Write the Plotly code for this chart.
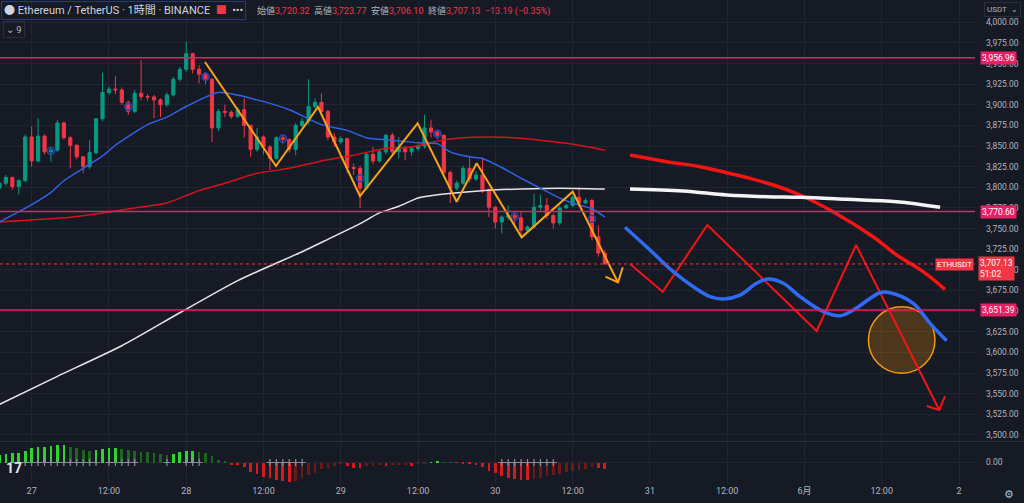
import pandas as pd
import plotly.graph_objects as go

# ETH/USDT 1h candles, first one at 2024-05-26 19:00
first_time = "2024-05-26 19:00"
first_open = 3799
closes = [
    3805, 3812, 3801, 3808, 3861, 3832, 3862, 3843, 3845, 3878,
    3860, 3851, 3837, 3825, 3842, 3883, 3915, 3919, 3918, 3903,
    3892, 3914, 3910, 3909.5, 3906, 3900, 3912, 3931, 3943, 3962,
    3943, 3937, 3931, 3872, 3892, 3891, 3886, 3894, 3875, 3846,
    3861, 3849, 3835, 3860, 3858, 3846, 3875, 3880, 3898, 3903,
    3892, 3861, 3855, 3859, 3824, 3823, 3799, 3840, 3832, 3843,
    3863, 3843, 3847, 3843, 3847, 3850, 3872, 3867, 3863, 3818,
    3799, 3805, 3823, 3810, 3815, 3797, 3776, 3758, 3764, 3766,
    3763, 3748, 3752, 3776, 3778, 3766, 3757, 3775, 3778, 3788,
    3781, 3784, 3740, 3720.32, 3707.13,
]
highs = [
    3809, 3815, 3813, 3810, 3864, 3874, 3884, 3864, 3848, 3882,
    3880, 3862, 3852, 3838, 3857, 3884, 3939, 3922, 3935, 3921,
    3905, 3918, 3954, 3913, 3912, 3908, 3915, 3934, 3946, 3976,
    3963, 3948, 3940, 3932, 3895, 3900, 3893, 3897, 3908, 3876,
    3872, 3863, 3851, 3862, 3863, 3859, 3878, 3884, 3931, 3908,
    3914, 3894, 3866, 3862, 3860, 3829, 3826, 3842, 3849, 3846,
    3865, 3866, 3861, 3850, 3849, 3852, 3888, 3882, 3869, 3864,
    3820, 3808, 3826, 3837, 3820, 3836, 3799, 3777, 3766, 3778,
    3770, 3770, 3754, 3792, 3791, 3787, 3768, 3777, 3780, 3790,
    3800, 3787, 3786, 3754, 3723.77,
]
lows = [
    3795, 3802, 3797, 3791, 3806, 3825, 3830, 3840, 3831, 3843,
    3858, 3823, 3834, 3817, 3822, 3840, 3880, 3912, 3913, 3900,
    3888, 3890, 3906, 3905, 3884, 3885, 3898, 3910, 3928, 3940,
    3938, 3926, 3925, 3855, 3868, 3885, 3883, 3884, 3860, 3837,
    3843, 3840, 3821, 3833, 3852, 3842, 3839, 3873, 3876, 3895,
    3888, 3857, 3849, 3852, 3817, 3815, 3775, 3797, 3828, 3830,
    3840, 3838, 3835, 3833, 3838, 3844, 3847, 3860, 3858, 3812,
    3781, 3796, 3803, 3806, 3808, 3793, 3764, 3750, 3744, 3760,
    3755, 3740, 3745, 3750, 3772, 3762, 3750, 3754, 3774, 3776,
    3776, 3780, 3736, 3716, 3706.10,
]

# squeeze momentum histogram
momentum = [
    7.7, 8.7, 9.3, 10, 12, 14.3, 15.3, 16, 16.2, 17.3,
    17.5, 16, 14.3, 12.7, 12, 12.7, 13.7, 14.3, 14.6, 13.7,
    12.7, 12, 11, 10.3, 9.3, 8.7, 7.7, 8.7, 10.3, 11.7,
    12, 11, 9.3, 6.7, 2.7, 0.7, -2, -2.7, -4.7, -9,
    -11.7, -14, -15.7, -17.3, -18, -19, -18, -15.7, -12.3, -10,
    -6.7, -5, -3.3, -1.7, -3.3, -5, -5.7, -3.3, -3.2, -2.7,
    -3.3, -2.7, -2.6, -2.5, -3.3, -1.7, -0.7, 0.5, 1, 0.5,
    0.3, -0.3, -0.5, -1, -2, -4, -8, -10, -13, -15,
    -16, -17, -17.5, -16, -15, -13.5, -12, -11, -9.5, -8,
    -7, -6, -4.5, -5, -6,
]
squeeze_idx = list(range(4, 16)) + list(range(17, 22)) + [26, 29, 30, 31] \
    + list(range(42, 48)) + list(range(78, 87))
session_idx = [8, 20, 32, 44, 56, 68, 80, 92]

# moving averages (candle index, price)
blue_ma_idx = [0, 5, 8, 10, 12, 16, 18, 23, 26, 29, 34, 40, 45, 50, 54, 57,
               61, 65, 68, 70, 73, 75, 78, 81, 84, 87, 89, 92, 94]
blue_ma_val = [3758, 3779, 3794, 3808, 3818, 3838, 3851, 3876, 3885, 3898,
               3915, 3906, 3894, 3876, 3869, 3860, 3857, 3854, 3853, 3843,
               3837, 3835, 3824, 3811, 3799, 3787, 3781, 3774, 3764]
red_ma_idx = [0, 10, 16, 21, 26, 29, 31, 35, 40, 45, 50, 55, 60, 64, 68, 72,
              76, 80, 85, 90, 94]
red_ma_val = [3758, 3763, 3769, 3775, 3781, 3790, 3796, 3805, 3817, 3823,
              3832, 3839, 3847, 3849, 3856, 3860, 3861, 3860, 3856, 3851, 3845]
white_ma_idx = [0, 9, 19, 28, 37, 47, 51, 56, 59, 62, 65, 68, 75, 81, 87, 94]
white_ma_val = [3537, 3571, 3608, 3648, 3687, 3722, 3737, 3756, 3769, 3777,
                3787, 3791, 3796, 3798, 3799, 3798]

levels = [3956.96, 3770.60, 3651.39]
last_price = 3707.13

# hand drawn lines
orange_t = ["2024-05-28 02:55", "2024-05-28 13:56", "2024-05-28 20:28",
            "2024-05-29 02:59", "2024-05-29 11:56", "2024-05-29 18:00",
            "2024-05-29 21:06", "2024-05-30 04:05", "2024-05-30 12:01",
            "2024-05-30 19:03"]
orange_p = [3951.9, 3825.9, 3897.4, 3789.5, 3877.6, 3782.6, 3829.1, 3739.4,
            3794.7, 3684.7]
orange_head_t = ["2024-05-30 17:06", "2024-05-30 19:03", "2024-05-30 19:47"]
orange_head_p = [3691.7, 3684.7, 3703.1]

proj_red_t = ["2024-05-30 20:55", "2024-05-31 02:37", "2024-05-31 07:47",
              "2024-05-31 11:56", "2024-05-31 15:35", "2024-05-31 19:10",
              "2024-05-31 23:19", "2024-06-01 04:26", "2024-06-01 10:39",
              "2024-06-01 14:20", "2024-06-01 18:25", "2024-06-01 21:50"]
proj_red_p = [3839.2, 3831.1, 3825.0, 3817.7, 3810.9, 3802.8, 3790.7, 3770.5,
              3740.2, 3718.0, 3697.8, 3676.4]
proj_white_t = ["2024-05-30 20:55", "2024-05-31 05:08", "2024-05-31 11:56",
                "2024-05-31 18:08", "2024-05-31 23:19", "2024-06-01 06:34",
                "2024-06-01 14:20", "2024-06-01 21:04"]
proj_white_p = [3798.0, 3795.6, 3790.7, 3788.6, 3787.9, 3785.5, 3782.6, 3775.8]
proj_blue_t = ["2024-05-30 20:08", "2024-05-31 00:01", "2024-05-31 03:38",
               "2024-05-31 06:44", "2024-05-31 09:20", "2024-05-31 11:24",
               "2024-05-31 14:00", "2024-05-31 16:35", "2024-05-31 18:23",
               "2024-05-31 20:43", "2024-05-31 23:19", "2024-06-01 02:56",
               "2024-06-01 05:31", "2024-06-01 07:35", "2024-06-01 11:44",
               "2024-06-01 13:17", "2024-06-01 16:54", "2024-06-01 19:30",
               "2024-06-01 22:05"]
proj_blue_p = [3751.6, 3724.1, 3697.8, 3679.6, 3667.5, 3664.7, 3669.5, 3683.7,
               3688.9, 3683.7, 3667.5, 3649.3, 3644.4, 3651.3, 3672.3, 3672.3,
               3659.5, 3635.2, 3614.1]
zigzag_t = ["2024-05-30 20:55", "2024-05-31 01:59", "2024-05-31 08:55",
            "2024-06-01 01:54", "2024-06-01 08:01", "2024-06-01 20:56"]
zigzag_p = [3707.1, 3673.5, 3754.3, 3625.9, 3730.1, 3530.2]
zigzag_head_t = ["2024-06-01 18:59", "2024-06-01 20:56", "2024-06-01 21:50"]
zigzag_head_p = [3535.0, 3530.2, 3547.1]
circle_t = ["2024-06-01 09:56", "2024-06-01 20:16"]
circle_p = [3574.6, 3655.4]

x_range = ["2024-05-26 19:05", "2024-06-02 02:29"]
tick_times = ["2024-05-27", "2024-05-27 12:00", "2024-05-28", "2024-05-28 12:00",
              "2024-05-29", "2024-05-29 12:00", "2024-05-30", "2024-05-30 12:00",
              "2024-05-31", "2024-05-31 12:00", "2024-06-01", "2024-06-01 12:00",
              "2024-06-02"]
tick_labels = ["27", "12:00", "28", "12:00", "29", "12:00", "30", "12:00",
               "31", "12:00", "6月", "12:00", "2"]
price_ticks = list(range(3500, 4001, 25))

BG = "#161a25"
GRID = "#212532"
TXT = "#b2b5be"
UP = "#089981"
DOWN = "#f23645"
PINK = "#e91e63"

times = pd.date_range(first_time, periods=len(closes), freq="h")
opens = [first_open] + closes[:-1]

fig = go.Figure()

fig.add_trace(go.Candlestick(
    x=times, open=opens, high=highs, low=lows, close=closes,
    increasing=dict(line=dict(color=UP, width=1), fillcolor=UP),
    decreasing=dict(line=dict(color=DOWN, width=1), fillcolor=DOWN),
    whiskerwidth=0, hoverinfo="skip", showlegend=False,
))

def ma_line(idx, val, color):
    fig.add_trace(go.Scatter(
        x=[times[i] for i in idx], y=val, mode="lines",
        line=dict(color=color, width=1.5, shape="spline", smoothing=0.6),
        hoverinfo="skip", showlegend=False,
    ))

ma_line(white_ma_idx, white_ma_val, "#e6e6e6")
ma_line(red_ma_idx, red_ma_val, "#d8121b")
ma_line(blue_ma_idx, blue_ma_val, "#2e63e6")

# session markers
fig.add_trace(go.Scatter(
    x=[times[i] for i in session_idx],
    y=[(opens[i] + closes[i]) / 2 for i in session_idx],
    mode="markers",
    marker=dict(symbol="circle-open", size=7, color="#2444b8", line=dict(width=1.6)),
    hoverinfo="skip", showlegend=False,
))

def drawing(t, p, color, width, spline=False):
    fig.add_trace(go.Scatter(
        x=pd.to_datetime(t), y=p, mode="lines",
        line=dict(color=color, width=width, shape="spline" if spline else "linear"),
        hoverinfo="skip", showlegend=False,
    ))

drawing(orange_t, orange_p, "#f7a21b", 2)
drawing(orange_head_t, orange_head_p, "#f7a21b", 2)
drawing(proj_red_t, proj_red_p, "#f41414", 3.5, spline=True)
drawing(proj_white_t, proj_white_p, "#f4f4f4", 3.5, spline=True)
drawing(zigzag_t, zigzag_p, "#f41414", 2)
drawing(zigzag_head_t, zigzag_head_p, "#f41414", 2)
drawing(proj_blue_t, proj_blue_p, "#2f6bf2", 3.5, spline=True)

# momentum histogram
colors = []
for i, v in enumerate(momentum):
    prev = momentum[i - 1] if i else 0
    if v >= 0:
        colors.append("#2fd42f" if v > prev else "#1c651c")
    else:
        colors.append("#d41a1a" if v < prev else "#6e1818")
fig.add_trace(go.Bar(
    x=times, y=momentum, marker=dict(color=colors, line=dict(width=0)),
    width=0.42 * 3600 * 1000, yaxis="y2", hoverinfo="skip", showlegend=False,
))
fig.add_trace(go.Scatter(
    x=[times[i] for i in squeeze_idx], y=[0] * len(squeeze_idx), yaxis="y2",
    mode="markers", marker=dict(symbol="cross-thin", size=5, color="#8a8e99",
                                line=dict(width=1.2, color="#8a8e99")),
    hoverinfo="skip", showlegend=False,
))

shapes = []
for lv in levels:
    shapes.append(dict(type="line", xref="paper", x0=0, x1=1, yref="y", y0=lv, y1=lv,
                       line=dict(color=PINK, width=1.5)))
shapes.append(dict(type="line", xref="paper", x0=0, x1=1, yref="y",
                   y0=last_price, y1=last_price, line=dict(color=DOWN, width=1, dash="dot")))
shapes.append(dict(type="circle", xref="x", yref="y", x0=circle_t[0], x1=circle_t[1],
                   y0=circle_p[0], y1=circle_p[1], layer="between",
                   fillcolor="rgba(255,152,0,0.24)", line=dict(color="#f39a12", width=1.5)))
shapes.append(dict(type="line", xref="paper", x0=0, x1=1.06, yref="paper", y0=0.0878, y1=0.0878,
                   line=dict(color="#2a2e39", width=1)))

ann = []
for lv in levels:
    ann.append(dict(xref="paper", x=1, xanchor="left", xshift=5, yref="y", y=lv,
                    text=f"{lv:,.2f}", showarrow=False, bgcolor=PINK, borderpad=1,
                    font=dict(size=8.5, color="white")))
ann.append(dict(xref="paper", x=1, xanchor="right", xshift=-1, yref="y", y=last_price,
                yshift=-1, text="ETHUSDT", showarrow=False, bgcolor=DOWN, borderpad=1,
                font=dict(size=8, color="white")))
ann.append(dict(xref="paper", x=1, xanchor="left", xshift=3, yref="y", y=last_price,
                yshift=-5, text=f"{last_price:,.2f}<br>51:02", showarrow=False,
                bgcolor=DOWN, borderpad=1, align="left",
                font=dict(size=8.5, color="white")))
ann.append(dict(xref="paper", yref="paper", x=0, y=1, xanchor="left", yanchor="top",
                xshift=1, yshift=-1, showarrow=False,
                text="● Ethereum / TetherUS · 1時間 · BINANCE  "
                     "<span style='color:#f23645'>■</span>  •••",
                bordercolor="#243a7d", borderwidth=1, borderpad=2,
                font=dict(size=11, color="#d1d4dc")))
ann.append(dict(xref="paper", yref="paper", x=0, y=1, xanchor="left", yanchor="top",
                xshift=255, yshift=-3, showarrow=False,
                text="始値<span style='color:#f23645'>3,720.32</span>  "
                     "高値<span style='color:#f23645'>3,723.77</span>  "
                     "安値<span style='color:#f23645'>3,706.10</span>  "
                     "終値<span style='color:#f23645'>3,707.13</span>  "
                     "<span style='color:#f23645'>−13.19 (−0.35%)</span>",
                font=dict(size=9, color=TXT)))
ann.append(dict(xref="paper", yref="paper", x=0, y=1, xanchor="left", yanchor="top",
                xshift=3, yshift=-21, showarrow=False, text="⌄ 9",
                bordercolor="#2a2e39", borderwidth=1, borderpad=2,
                font=dict(size=9.5, color=TXT)))
ann.append(dict(xref="paper", yref="paper", x=1, y=1, xanchor="left", yanchor="top",
                xshift=9, yshift=-2, showarrow=False, text="USDT  ⌄",
                bordercolor="#2a2e39", borderwidth=1, borderpad=2, bgcolor=BG,
                font=dict(size=8, color=TXT)))
ann.append(dict(xref="paper", yref="paper", x=0, y=0.033, xanchor="left", yanchor="middle",
                xshift=4, showarrow=False, text="<b>17</b>",
                font=dict(size=14, color="#e0e3eb")))
ann.append(dict(xref="paper", yref="paper", x=1, y=0, xanchor="left", yanchor="middle",
                xshift=27, yshift=-10, showarrow=False, text="⚙",
                font=dict(size=11, color=TXT)))

fig.update_layout(
    width=1024, height=503,
    margin=dict(l=0, r=49, t=0, b=19),
    paper_bgcolor=BG, plot_bgcolor=BG,
    font=dict(family="Roboto, 'Noto Sans CJK JP', sans-serif", color=TXT),
    showlegend=False, bargap=0,
    xaxis=dict(type="date", range=x_range, anchor="y2", tickvals=tick_times,
               ticktext=tick_labels, showgrid=True, gridcolor=GRID, gridwidth=1,
               zeroline=False, showline=False, ticks="",
               tickfont=dict(size=9, color=TXT), rangeslider=dict(visible=False)),
    yaxis=dict(domain=[0.0888, 1], range=[3492.6, 4027.0], side="right",
               tickvals=price_ticks, tickformat=",.2f", showgrid=True,
               gridcolor=GRID, zeroline=False, ticks="", ticklabelstandoff=10,
               tickfont=dict(size=8.5, color=TXT)),
    yaxis2=dict(domain=[0, 0.0868], range=[-21.5, 20.5], side="right",
                tickvals=[0], ticktext=["0.00"], showgrid=True, gridcolor=GRID,
                zeroline=False, ticks="", ticklabelstandoff=10,
                tickfont=dict(size=8.5, color=TXT)),
    shapes=shapes, annotations=ann,
)

# the page's default body margin would shift the figure by 8px
fig.write_html("out.html", config={"displayModeBar": False},
               post_script="document.body.style.margin = '0';")
